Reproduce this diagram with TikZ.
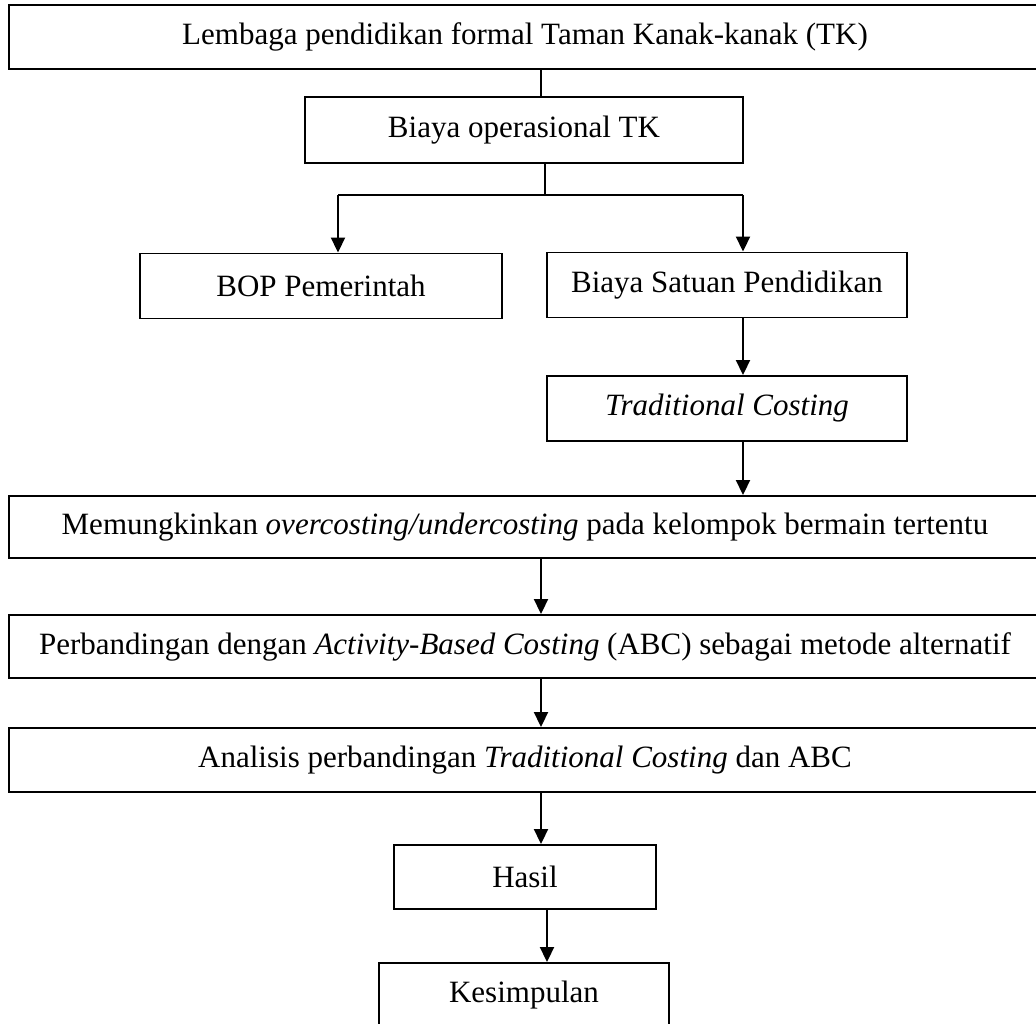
\documentclass[tikz,border=0pt]{standalone}
\usepackage{fontspec}
\setmainfont{Liberation Serif}
\usetikzlibrary{arrows.meta}
\begin{document}
\begin{tikzpicture}[x=1pt,y=-1pt,
  box/.style={draw=black, line width=1.9pt, inner sep=0pt, align=center,
    font=\fontsize{31}{37}\selectfont},
  conn/.style={draw=black, line width=1.9pt},
  arr/.style={conn, -{Triangle[width=14pt,length=15pt]}}]
\useasboundingbox (0,0) rectangle (1036,1024);
\fill[white] (0,0) rectangle (1036,1024);

\node[box, minimum width=1032pt, minimum height=64pt] (b1) at (525,37) {Lembaga pendidikan formal Taman Kanak-kanak (TK)};
\node[box, minimum width=438pt, minimum height=66pt] (b2) at (524,130) {Biaya operasional TK};
\node[box, minimum width=362pt, minimum height=65pt] (b3) at (321,286) {BOP Pemerintah};
\node[box, minimum width=360pt, minimum height=65pt] (b4) at (727,285) {Biaya Satuan Pendidikan};
\node[box, minimum width=360pt, minimum height=65pt] (b5) at (727,408.5) {\textit{Traditional Costing}};
\node[box, minimum width=1032pt, minimum height=62pt] (b6) at (525,527) {Memungkinkan \textit{overcosting/undercosting} pada kelompok bermain tertentu};
\node[box, minimum width=1032pt, minimum height=63pt] (b7) at (525,646.5) {Perbandingan dengan \textit{Activity-Based Costing} (ABC) sebagai metode alternatif};
\node[box, minimum width=1032pt, minimum height=64pt] (b8) at (525,760) {Analisis perbandingan \textit{Traditional Costing} dan ABC};
\node[box, minimum width=262pt, minimum height=64pt] (b9) at (525,877) {Hasil};
\node[box, minimum width=290pt, minimum height=64pt] (b10) at (524,995) {Kesimpulan};

\coordinate (colA) at (541,0);
\coordinate (colB) at (545,0);
\coordinate (colL) at (338,0);
\coordinate (colR) at (743,0);
\coordinate (colH) at (547,0);
\coordinate (j) at (545,195);

\draw[conn] (b1.south -| colA) -- (b2.north -| colA);
\draw[conn] (b2.south -| colB) -- (j);
\draw[conn] (j -| colL) -- (j -| colR);
\draw[arr] (j -| colL) -- (b3.north -| colL);
\draw[arr] (j -| colR) -- (b4.north -| colR);
\draw[arr] (b4.south -| colR) -- (b5.north -| colR);
\draw[arr] (b5.south -| colR) -- (b6.north -| colR);
\draw[arr] (b6.south -| colA) -- (b7.north -| colA);
\draw[arr] (b7.south -| colA) -- (b8.north -| colA);
\draw[arr] (b8.south -| colA) -- (b9.north -| colA);
\draw[arr] (b9.south -| colH) -- (b10.north -| colH);
\end{tikzpicture}
\end{document}
